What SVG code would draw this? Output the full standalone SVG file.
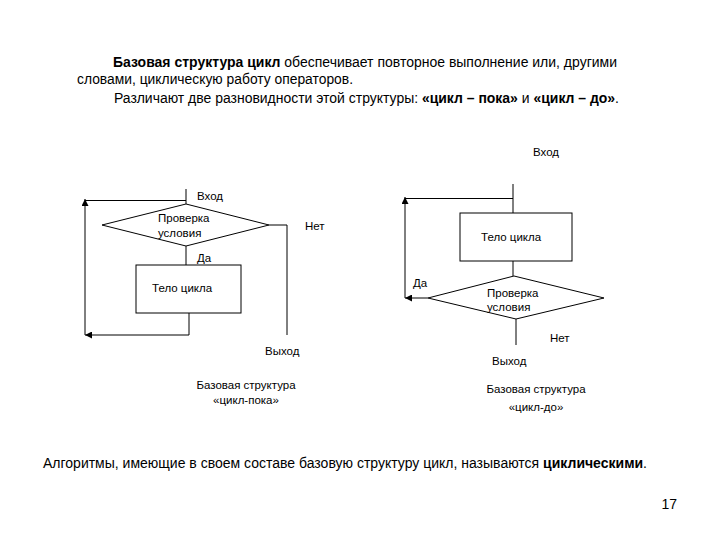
<svg xmlns="http://www.w3.org/2000/svg" width="720" height="540" viewBox="0 0 720 540">
<style>
  text { font-family: "Liberation Sans", Arial, sans-serif; fill: #000; }
  .main { font-size: 14px; }
  .lbl { font-size: 11.5px; }
  .b { font-weight: bold; }
  .shape { fill: #fff; stroke: #000; stroke-width: 1; }
  .ln { fill: none; stroke: #000; stroke-width: 1; }
</style>
<defs>
  <marker id="arr" viewBox="0 0 10 10" refX="10" refY="5" markerWidth="7" markerHeight="7" markerUnits="userSpaceOnUse" orient="auto">
    <path d="M0,0 L10,5 L0,10 Z" fill="#000"/>
  </marker>
</defs>
<rect width="720" height="540" fill="#fff"/>

<g id="intro">
  <text class="main" x="113" y="67" textLength="504" lengthAdjust="spacingAndGlyphs"><tspan class="b">Базовая структура цикл</tspan> обеспечивает повторное выполнение или, другими</text>
  <text class="main" x="77" y="84" textLength="276" lengthAdjust="spacingAndGlyphs">словами, циклическую работу операторов.</text>
  <text class="main" x="114" y="103" textLength="505" lengthAdjust="spacingAndGlyphs">Различают две разновидности этой структуры: <tspan class="b">«цикл – пока»</tspan> и <tspan class="b">«цикл – до»</tspan>.</text>
</g>

<g id="connectors">
  <!-- left diagram -->
  <path class="ln" d="M186,189 V204"/>
  <path class="ln" d="M85,200.5 H186"/>
  <path class="ln" d="M186,246 V265"/>
  <path class="ln" d="M189,313 V335 H85" marker-end="url(#arr)"/>
  <path class="ln" d="M85,335 V199" marker-end="url(#arr)"/>
  <path class="ln" d="M269,225 H287 V335"/>
  <!-- right diagram -->
  <path class="ln" d="M513,184 V213"/>
  <path class="ln" d="M405,198.5 H513"/>
  <path class="ln" d="M513,261 V276"/>
  <path class="ln" d="M428,298 H405" marker-end="url(#arr)"/>
  <path class="ln" d="M405,298 V197" marker-end="url(#arr)"/>
  <path class="ln" d="M516,319 V345"/>
</g>

<g id="left-check">
  <polygon class="shape" points="186,204 269,225 186,246 102,225"/>
  <text class="lbl" x="158" y="222">Проверка</text>
  <text class="lbl" x="158" y="237">условия</text>
</g>
<g id="left-body">
  <rect class="shape" x="136" y="265" width="105" height="48"/>
  <text class="lbl" x="152" y="292">Тело цикла</text>
</g>
<g id="left-labels">
  <text class="lbl" x="197" y="200">Вход</text>
  <text class="lbl" x="305" y="230">Нет</text>
  <text class="lbl" x="197" y="262">Да</text>
  <text class="lbl" x="265" y="355">Выход</text>
  <text class="lbl" x="246" y="389" text-anchor="middle">Базовая структура</text>
  <text class="lbl" x="246" y="404" text-anchor="middle">«цикл-пока»</text>
</g>

<g id="right-body">
  <rect class="shape" x="460" y="213" width="112" height="48"/>
  <text class="lbl" x="481" y="241">Тело цикла</text>
</g>
<g id="right-check">
  <polygon class="shape" points="514,276 604,298 516,319 428,298"/>
  <text class="lbl" x="487" y="297">Проверка</text>
  <text class="lbl" x="487" y="311">условия</text>
</g>
<g id="right-labels">
  <text class="lbl" x="533" y="156">Вход</text>
  <text class="lbl" x="413" y="287">Да</text>
  <text class="lbl" x="550" y="342">Нет</text>
  <text class="lbl" x="492" y="365">Выход</text>
  <text class="lbl" x="536" y="393" text-anchor="middle">Базовая структура</text>
  <text class="lbl" x="536" y="411" text-anchor="middle">«цикл-до»</text>
</g>

<g id="footer">
  <text class="main" x="43" y="468" textLength="604" lengthAdjust="spacingAndGlyphs">Алгоритмы, имеющие в своем составе базовую структуру цикл, называются <tspan class="b">циклическими</tspan>.</text>
  <text class="main" x="677" y="509" text-anchor="end">17</text>
</g>
</svg>
